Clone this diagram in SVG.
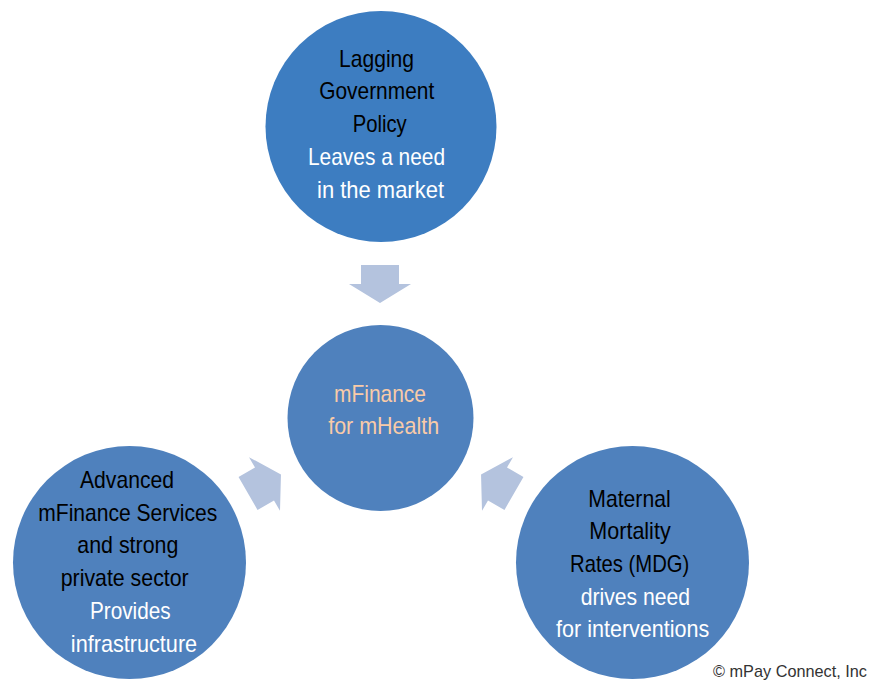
<svg xmlns="http://www.w3.org/2000/svg" width="871" height="683" viewBox="0 0 871 683">
<style>
text{font-family:"Liberation Sans Narrow","Liberation Sans",Arial,sans-serif;font-size:24px;text-anchor:middle}
.k{fill:#000}
.w{fill:#fff}
.p{fill:#F9CBA8}
.arrow{fill:#B4C3DE}
.c1{fill:#3D7DC1}
.c2{fill:#4F81BD}
</style>
<defs>
<polygon id="arr" points="-19,-19 19,-19 19,0 31,0 0,19 -31,0 -19,0"/>
</defs>
<rect width="871" height="683" fill="#fff"/>
<g id="connectors">
<use href="#arr" class="arrow" transform="translate(380,284)"/>
<use href="#arr" class="arrow" transform="translate(264.5,484) rotate(-120)"/>
<use href="#arr" class="arrow" transform="translate(497.5,484) rotate(120)"/>
</g>
<g id="node-top">
<circle class="c1" cx="381" cy="126.5" r="115.5"/>
<text class="k" x="376.5" y="66.5" textLength="75" lengthAdjust="spacingAndGlyphs">Lagging</text>
<text class="k" x="376.7" y="99.3" textLength="115" lengthAdjust="spacingAndGlyphs">Government</text>
<text class="k" x="379.7" y="132" textLength="54" lengthAdjust="spacingAndGlyphs">Policy</text>
<text class="w" x="376.5" y="164.8" textLength="137" lengthAdjust="spacingAndGlyphs">Leaves a need</text>
<text class="w" x="380.5" y="197.6" textLength="127" lengthAdjust="spacingAndGlyphs">in the market</text>
</g>
<g id="node-center">
<circle class="c2" cx="380.5" cy="418" r="93"/>
<text class="p" x="380" y="401.7" textLength="92" lengthAdjust="spacingAndGlyphs">mFinance</text>
<text class="p" x="383.7" y="434.3" textLength="111" lengthAdjust="spacingAndGlyphs">for mHealth</text>
</g>
<g id="node-left">
<circle class="c2" cx="129.5" cy="562.5" r="116.5"/>
<text class="k" x="127" y="487.7" textLength="94" lengthAdjust="spacingAndGlyphs">Advanced</text>
<text class="k" x="127.8" y="520.5" textLength="179" lengthAdjust="spacingAndGlyphs">mFinance Services</text>
<text class="k" x="127.8" y="553.3" textLength="101" lengthAdjust="spacingAndGlyphs">and strong</text>
<text class="k" x="124.7" y="586" textLength="128" lengthAdjust="spacingAndGlyphs">private sector</text>
<text class="w" x="130.3" y="618.8" textLength="80.7" lengthAdjust="spacingAndGlyphs">Provides</text>
<text class="w" x="134" y="651.6" textLength="126.3" lengthAdjust="spacingAndGlyphs">infrastructure</text>
</g>
<g id="node-right">
<circle class="c2" cx="632.5" cy="562.5" r="116.5"/>
<text class="k" x="629.5" y="506.7" textLength="82.3" lengthAdjust="spacingAndGlyphs">Maternal</text>
<text class="k" x="630" y="539.3" textLength="81.3" lengthAdjust="spacingAndGlyphs">Mortality</text>
<text class="k" x="629.7" y="571.7" textLength="119.3" lengthAdjust="spacingAndGlyphs">Rates (MDG)</text>
<text class="w" x="635.3" y="604.5" textLength="109.3" lengthAdjust="spacingAndGlyphs">drives need</text>
<text class="w" x="632.7" y="636.7" textLength="153.3" lengthAdjust="spacingAndGlyphs">for interventions</text>
</g>
<text x="790" y="677" style="font-size:17px;fill:#333" textLength="154" lengthAdjust="spacingAndGlyphs">© mPay Connect, Inc</text>
</svg>
